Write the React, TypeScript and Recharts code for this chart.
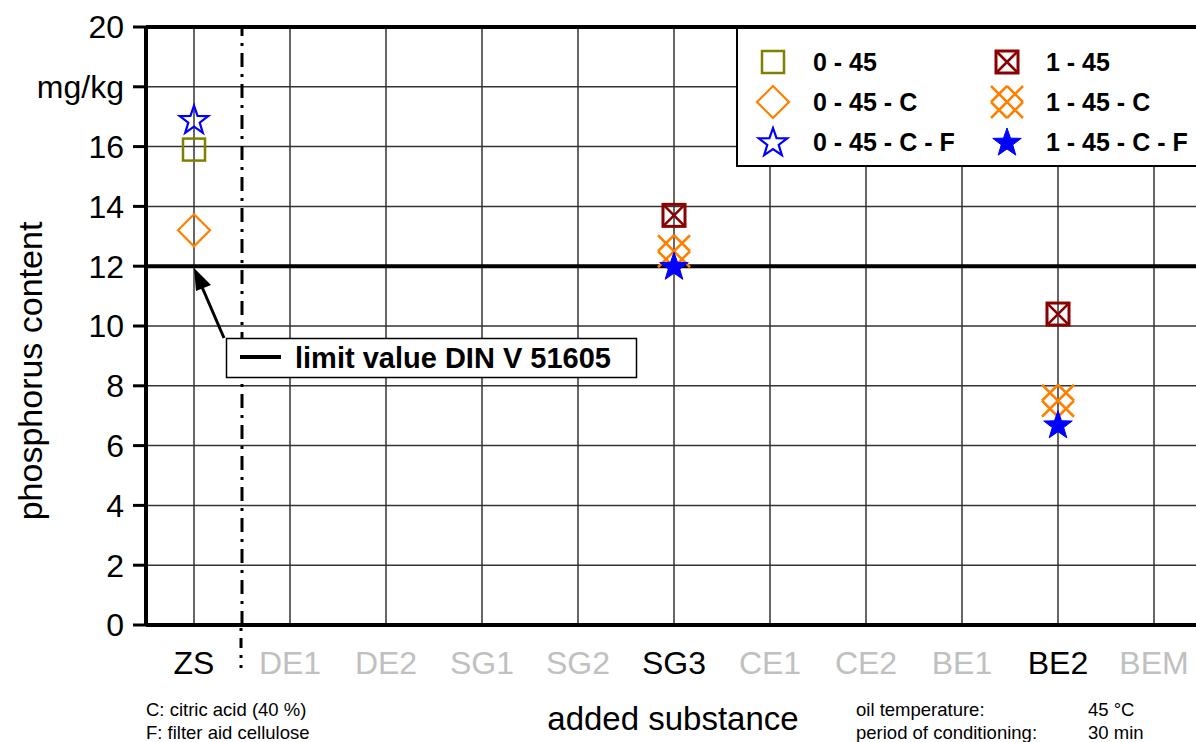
import {
  ComposedChart,
  Line,
  XAxis,
  YAxis,
  CartesianGrid,
  ReferenceLine,
} from "recharts";

const categories = ["ZS", "DE1", "DE2", "SG1", "SG2", "SG3", "CE1", "CE2", "BE1", "BE2", "BEM"];
const s0_45 = [15.9, null, null, null, null, null, null, null, null, null, null];
const s0_45_C = [13.2, null, null, null, null, null, null, null, null, null, null];
const s0_45_C_F = [16.9, null, null, null, null, null, null, null, null, null, null];
const s1_45 = [null, null, null, null, null, 13.7, null, null, null, 10.4, null];
const s1_45_C = [null, null, null, null, null, 12.5, null, null, null, 7.5, null];
const s1_45_C_F = [null, null, null, null, null, 12.0, null, null, null, 6.7, null];
const yTicks = [0, 2, 4, 6, 8, 10, 12, 14, 16, 18, 20];
const limitValue = 12;

const FONT = "Arial, 'Liberation Sans', sans-serif";
const OLIVE = "#808000";
const DARKRED = "#8b0000";
const ORANGE = "#ff8000";
const BLUE = "#0000ff";

const data = categories.map((name, i) => ({
  x: i + 0.5,
  name,
  a: s0_45[i],
  b: s0_45_C[i],
  c: s0_45_C_F[i],
  d: s1_45[i],
  e: s1_45_C[i],
  f: s1_45_C_F[i],
}));

const hasData = categories.map(
  (_, i) =>
    [s0_45, s0_45_C, s0_45_C_F, s1_45, s1_45_C, s1_45_C_F].some((s) => s[i] != null)
);

function starPath(cx: number, cy: number, R: number, r: number) {
  let p = "";
  for (let k = 0; k < 10; k++) {
    const rad = k % 2 === 0 ? R : r;
    const a = -Math.PI / 2 + (k * Math.PI) / 5;
    p += (k === 0 ? "M" : "L") + (cx + rad * Math.cos(a)).toFixed(2) + "," + (cy + rad * Math.sin(a)).toFixed(2);
  }
  return p + "Z";
}

function Marker({ kind, cx, cy }: { kind: string; cx: number; cy: number }) {
  if (kind === "a") {
    return <rect x={cx - 11} y={cy - 11} width={22} height={22} fill="none" stroke={OLIVE} strokeWidth={2.5} />;
  }
  if (kind === "b") {
    const r = 16;
    return (
      <path
        d={`M${cx - r},${cy}L${cx},${cy - r}L${cx + r},${cy}L${cx},${cy + r}Z`}
        fill="none"
        stroke={ORANGE}
        strokeWidth={2.2}
      />
    );
  }
  if (kind === "c") {
    return <path d={starPath(cx, cy + 1, 15, 6)} fill="none" stroke={BLUE} strokeWidth={2.2} strokeLinejoin="miter" />;
  }
  if (kind === "d") {
    return (
      <g stroke={DARKRED} fill="none">
        <rect x={cx - 11} y={cy - 11} width={22} height={22} strokeWidth={3} />
        <path d={`M${cx - 10},${cy - 10}L${cx + 10},${cy + 10}M${cx + 10},${cy - 10}L${cx - 10},${cy + 10}`} strokeWidth={2.5} />
      </g>
    );
  }
  if (kind === "e") {
    // 2x2 grid of crosses: diagonal lines clipped to a square
    const r = 16;
    const segs: string[] = [];
    for (const c of [-r, 0, r]) {
      const x1 = Math.max(-r, -r - c);
      const x2 = Math.min(r, r - c);
      segs.push(`M${cx + x1},${cy + x1 + c}L${cx + x2},${cy + x2 + c}`);
      const u1 = Math.max(-r, c - r);
      const u2 = Math.min(r, c + r);
      segs.push(`M${cx + u1},${cy - u1 + c}L${cx + u2},${cy - u2 + c}`);
    }
    return <path d={segs.join("")} stroke={ORANGE} strokeWidth={2.5} fill="none" />;
  }
  return <path d={starPath(cx, cy + 1, 15, 6)} fill={BLUE} stroke={BLUE} strokeWidth={1} />;
}

function makeDot(kind: string) {
  return (props: any) => {
    const { cx, cy, value, index } = props;
    if (value == null || cx == null || cy == null || Number.isNaN(cy)) return <g key={`${kind}-${index}`} />;
    return (
      <g key={`${kind}-${index}`}>
        <Marker kind={kind} cx={cx} cy={cy} />
      </g>
    );
  };
}

const series = [
  { key: "a", label: "0 - 45" },
  { key: "b", label: "0 - 45 - C" },
  { key: "c", label: "0 - 45 - C - F" },
  { key: "d", label: "1 - 45" },
  { key: "e", label: "1 - 45 - C" },
  { key: "f", label: "1 - 45 - C - F" },
];

function XTick(props: any) {
  const { x, y, payload } = props;
  const i = Math.round(payload.value - 0.5);
  return (
    <text x={x} y={y + 41} textAnchor="middle" fontSize={32} fontFamily={FONT} fill={hasData[i] ? "#000" : "#c0c0c0"}>
      {categories[i]}
    </text>
  );
}

export default function App() {
  return (
    <div
      style={{
        position: "absolute",
        left: 0,
        top: 0,
        width: 1196,
        height: 742,
        overflow: "hidden",
        background: "#fff",
        fontFamily: FONT,
      }}
    >
      <ComposedChart width={1202} height={742} data={data} margin={{ top: 27, right: 0, left: 46, bottom: 57 }}>
        <CartesianGrid stroke="#333" strokeWidth={1.5} />
        <XAxis
          dataKey="x"
          type="number"
          domain={[0, categories.length]}
          ticks={data.map((d) => d.x)}
          tick={<XTick />}
          tickLine={false}
          axisLine={{ stroke: "#000", strokeWidth: 4 }}
          height={60}
          interval={0}
        />
        <YAxis
          type="number"
          domain={[0, 20]}
          ticks={yTicks}
          width={100}
          tickSize={13}
          tickMargin={9}
          tickLine={{ stroke: "#000", strokeWidth: 3 }}
          axisLine={{ stroke: "#000", strokeWidth: 4 }}
          tick={{ fontSize: 32, fill: "#000", fontFamily: FONT }}
          tickFormatter={(v) => (v === 18 ? "mg/kg" : String(v))}
          interval={0}
        />
        <ReferenceLine y={20} stroke="#000" strokeWidth={4} />
        <ReferenceLine y={limitValue} stroke="#000" strokeWidth={4} />
        <ReferenceLine x={1} stroke="#000" strokeWidth={3} strokeDasharray="14 7 3 7" />
        {series.map((s) => (
          <Line
            key={s.key}
            dataKey={s.key}
            stroke="none"
            dot={makeDot(s.key)}
            activeDot={false}
            isAnimationActive={false}
            connectNulls={false}
          />
        ))}
      </ComposedChart>

      <svg
        width={1196}
        height={742}
        style={{ position: "absolute", left: 0, top: 0, pointerEvents: "none" }}
        fontFamily={FONT}
      >
        {/* dash-dot divider below axis */}
        <line x1={241} y1={628} x2={241} y2={668} stroke="#000" strokeWidth={3} strokeDasharray="3 7 10 7" />

        {/* legend */}
        <rect x={737} y={28} width={470} height={138} fill="#fff" stroke="#000" strokeWidth={2} />
        {series.map((s, i) => {
          const col = i < 3 ? 0 : 1;
          const row = i % 3;
          const mx = col === 0 ? 773 : 1007;
          const tx = col === 0 ? 813 : 1046;
          const my = 62 + row * 40;
          return (
            <g key={s.key}>
              <Marker kind={s.key} cx={mx} cy={my} />
              <text x={tx} y={my + 9} fontSize={25} fontWeight="bold" fill="#000">
                {s.label}
              </text>
            </g>
          );
        })}

        {/* limit value annotation */}
        <line x1={224} y1={338} x2={202} y2={287} stroke="#000" strokeWidth={3} />
        <path d="M194,268 L211,285 L196,291 Z" fill="#000" />
        <rect x={226.5} y={338.5} width={410} height={39} fill="#fff" stroke="#000" strokeWidth={1.5} />
        <line x1={240} y1={357} x2={281} y2={357} stroke="#000" strokeWidth={4} />
        <text x={295} y={368} fontSize={29} fontWeight="bold" fill="#000">
          limit value DIN V 51605
        </text>

        {/* axis titles */}
        <text x={30} y={371} fontSize={34} fill="#000" textAnchor="middle" dominantBaseline="central" transform="rotate(-90 30 371)">
          phosphorus content
        </text>
        <text x={673} y={730} fontSize={33} fill="#000" textAnchor="middle">
          added substance
        </text>

        {/* notes */}
        <g fontSize={18.5} fill="#000">
          <text x={146} y={716}>C: citric acid (40 %)</text>
          <text x={146} y={739}>F: filter aid cellulose</text>
          <text x={856} y={716}>oil temperature:</text>
          <text x={856} y={739}>period of conditioning:</text>
          <text x={1088} y={716}>45 °C</text>
          <text x={1088} y={739}>30 min</text>
        </g>
      </svg>
    </div>
  );
}
